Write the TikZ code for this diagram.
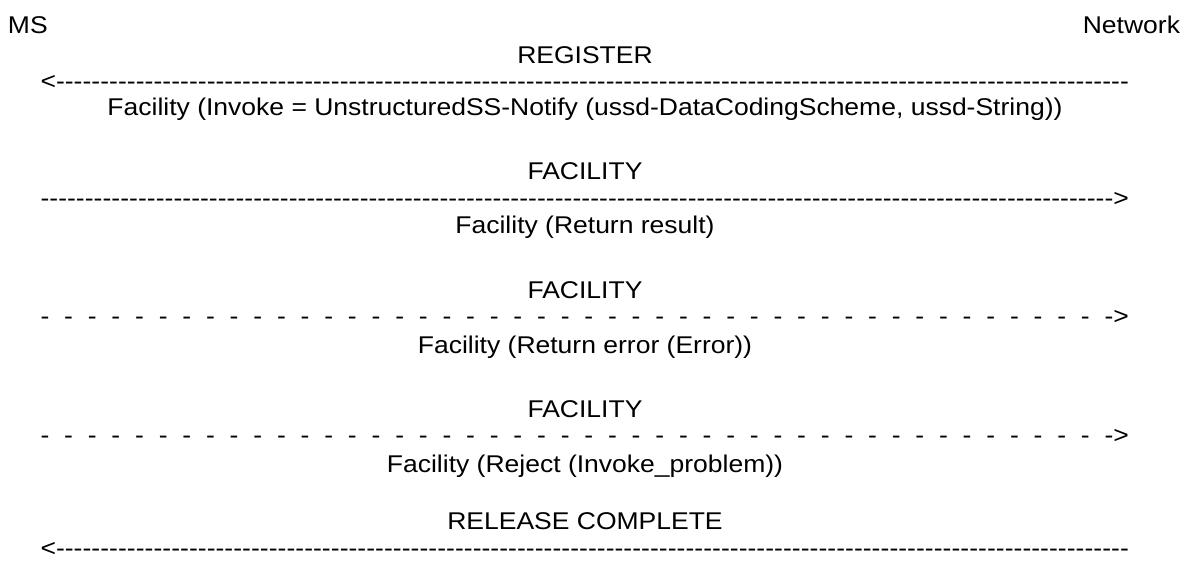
\documentclass[tikz,border=0pt]{standalone}
\usepackage{fontspec}
\setmainfont{Liberation Sans}
\newcommand\hsx[1]{\scalebox{1.095}[1]{#1}}
\newcommand\msgfont{\fontsize{24.2}{29}\selectfont}
\newcommand\arrowleft{\hsx{\hbox to 994pt{<\xleaders\hbox{-}\hfill}}}
\newcommand\arrowright{\hsx{\hbox to 994pt{\xleaders\hbox{-}\hfill>}}}
\newcommand\arrowdashright{\hsx{\hbox to 994pt{\xleaders\hbox{-\hskip 0.556em}\hfill->}}}
\tikzset{
  txt/.style={inner sep=0pt, outer sep=0pt, font=\msgfont},
  msg/.style={txt, anchor=base},
  arr/.style={txt, anchor=base west},
}
\begin{document}
\begin{tikzpicture}[x=1pt,y=-1pt]
\useasboundingbox (0,0) rectangle (1196,560);
\node[txt, anchor=base west] (ms) at (8,33) {\hsx{MS}};
\node[txt, anchor=base east] (net) at (1180,33) {\hsx{Network}};
% 1
\node[msg] (m1) at (585,63.3) {\hsx{REGISTER}};
\node[arr] (a1) at (40.5,89.7) {\arrowleft};
\node[msg] (p1) at (585,115.5) {\hsx{Facility (Invoke = UnstructuredSS-Notify (ussd-DataCodingScheme, ussd-String))}};
% 2
\node[msg] (m2) at (585,179.3) {\hsx{FACILITY}};
\node[arr] (a2) at (40.5,206.7) {\arrowright};
\node[msg] (p2) at (585,233) {\hsx{Facility (Return result)}};
% 3
\node[msg] (m3) at (585,298) {\hsx{FACILITY}};
\node[arr] (a3) at (40.5,324.7) {\arrowdashright};
\node[msg] (p3) at (585,353) {\hsx{Facility (Return error (Error))}};
% 4
\node[msg] (m4) at (585,417) {\hsx{FACILITY}};
\node[arr] (a4) at (40.5,443.7) {\arrowdashright};
\node[msg] (p4) at (585,472) {\hsx{Facility (Reject (Invoke\_problem))}};
% 5
\node[msg] (m5) at (585,529.5) {\hsx{RELEASE COMPLETE}};
\node[arr] (a5) at (40.5,556) {\arrowleft};
\end{tikzpicture}
\end{document}
